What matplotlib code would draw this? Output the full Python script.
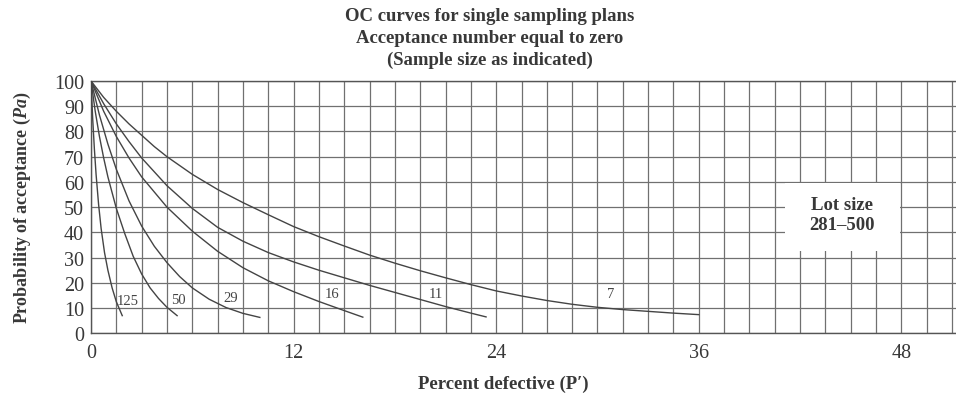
import matplotlib
matplotlib.use("Agg")
import matplotlib.pyplot as plt
from matplotlib.ticker import MultipleLocator
from matplotlib.patches import Rectangle

plt.rcParams['font.family'] = ['Liberation Serif', 'DejaVu Serif']
plt.rcParams['mathtext.fontset'] = 'custom'
plt.rcParams['mathtext.it'] = 'Liberation Serif:italic:bold'
plt.rcParams['mathtext.rm'] = 'Liberation Serif:bold'

# ---- data (percent defective, Pa %) ----
sample_sizes = ["125", "50", "29", "16", "11", "7"]

x_125 = [0, 0.1, 0.2, 0.3, 0.45, 0.6, 0.8, 1.0, 1.25, 1.5, 1.85]
y_125 = [100, 85, 73, 63, 51, 41.5, 32, 25, 18, 12.5, 7]

x_50 = [0, 0.25, 0.5, 0.75, 1.0, 1.5, 2.0, 2.5, 3.0, 3.5, 4.0, 4.5, 5.1]
y_50 = [100, 88, 78, 69.5, 62, 49.5, 39.5, 30.5, 23.5, 18, 13.8, 10.3, 7]

x_29 = [0, 0.5, 1.0, 1.5, 2.25, 3.0, 3.75, 4.5, 5.25, 6.0, 7.0, 8.0, 9.0, 10.0]
y_29 = [100, 86.5, 75, 65, 52.5, 42.5, 34.5, 28, 22.5, 18, 13.5, 10.2, 7.9, 6.3]

x_16 = [0, 0.75, 1.5, 2.25, 3.0, 4.5, 6.0, 7.5, 9.0, 10.5, 12.0, 13.5, 15.0, 16.1]
y_16 = [100, 88, 78, 69.5, 62, 50, 40.5, 32.5, 26, 20.8, 16.5, 12.6, 9, 6.4]

x_11 = [0, 0.75, 1.5, 2.25, 3.0, 4.5, 6.0, 7.5, 9.0, 10.5, 12.0, 13.5, 15.0, 16.5,
        18.0, 19.5, 21.0, 22.5, 23.4]
y_11 = [100, 91, 83, 76, 69.5, 58.5, 49.5, 42, 36.5, 32, 28.3, 25, 22, 19,
        16.2, 13.4, 10.6, 8, 6.5]

x_7 = [0, 0.75, 1.5, 2.25, 3.0, 3.75, 4.5, 6.0, 7.5, 9.0, 10.5, 12.0, 13.5, 15.0, 16.5,
       18.0, 19.5, 21.0, 22.5, 24.0, 25.5, 27.0, 28.5, 30.0, 31.5, 33.0, 34.5, 36.0]
y_7 = [100, 93.5, 88, 83, 78.5, 74, 70, 63, 57, 51.8, 47, 42.3, 38.3, 34.6, 31,
       27.8, 24.8, 22, 19.3, 16.8, 14.8, 13, 11.5, 10.3, 9.4, 8.7, 8.0, 7.4]

label_x = [2.2, 5.2, 8.3, 14.25, 20.4, 30.8]
label_y = [13, 13.3, 14.3, 15.6, 15.6, 15.6]

x_ticks = [0, 12, 24, 36, 48]
y_ticks = [0, 10, 20, 30, 40, 50, 60, 70, 80, 90, 100]

curves = [(x_125, y_125), (x_50, y_50), (x_29, y_29), (x_16, y_16), (x_11, y_11), (x_7, y_7)]

text_col = '#383838'

fig = plt.figure(figsize=(9.56, 4.02), dpi=100)
ax = fig.add_axes([0.0952, 0.1684, 0.913, 0.6276])

ax.set_xlim(0, 51.7)
ax.set_ylim(0, 100)
ax.xaxis.set_minor_locator(MultipleLocator(1.5))
ax.set_xticks(x_ticks)
ax.set_yticks(y_ticks)
ax.grid(True, which='both', color='#707070', linewidth=0.9)
ax.set_axisbelow(True)
ax.tick_params(which='both', length=0, labelsize=14.5, colors=text_col)
ax.tick_params(axis='x', pad=7)
ax.tick_params(axis='y', pad=5)
ax.spines['right'].set_visible(False)
for s in ['left', 'bottom', 'top']:
    ax.spines[s].set_color('#555555')
    ax.spines[s].set_linewidth(1.0)

for (xs, ys) in curves:
    ax.plot(xs, ys, color='#444444', linewidth=1.0, zorder=3, solid_joinstyle='round')

for name, lx, ly in zip(sample_sizes, label_x, label_y):
    ax.text(lx, ly, name, fontsize=10.5, color='#444444', ha='center', va='center', zorder=4)

ax.add_patch(Rectangle((41.1, 32.5), 6.8, 27, facecolor='white', edgecolor='none', zorder=2))
ax.text(44.5, 47, "Lot size\n281\u2013500", fontsize=13.5, fontweight='bold', color=text_col,
        ha='center', va='center', linespacing=1.25, zorder=4)

for ty, line in zip([0.960, 0.905, 0.851],
                    ["OC curves for single sampling plans",
                     "Acceptance number equal to zero",
                     "(Sample size as indicated)"]):
    fig.text(0.512, ty, line, ha='center', va='center',
             fontsize=13.5, fontweight='bold', color=text_col)

fig.text(0.023, 0.483, r"Probability of acceptance ($\mathit{Pa}$)", rotation=90,
         ha='center', va='center', fontsize=13, fontweight='bold', color=text_col)
fig.text(0.527, 0.045, "Percent defective (P\u2032)", ha='center', va='center',
         fontsize=13.5, fontweight='bold', color=text_col)

fig.savefig("out.png", dpi=100)
